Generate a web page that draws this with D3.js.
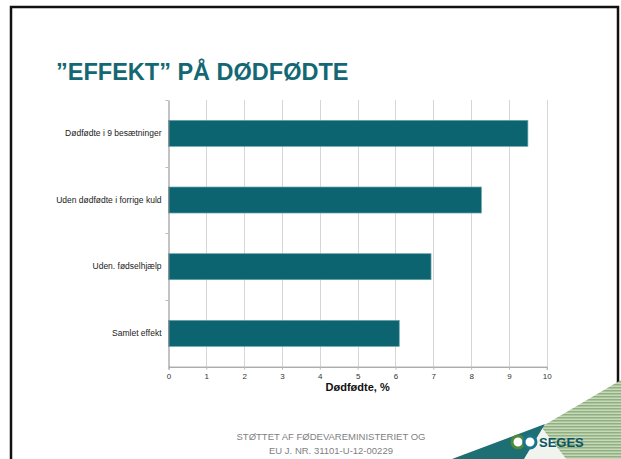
<!DOCTYPE html>
<html>
<head>
<meta charset="utf-8">
<script src="https://cdn.jsdelivr.net/npm/d3@7"></script>
<style>
  body { margin: 0; background: #fff; }
  svg { display: block; font-family: "Liberation Sans", Arial, sans-serif; }
</style>
</head>
<body>
<script>
// data
var categories = ['Dødfødte i 9 besætninger', 'Uden dødfødte i forrige kuld', 'Uden. fødselhjælp', 'Samlet effekt'];
var values = [9.5, 8.27, 6.94, 6.1];
var xTicks = [0, 1, 2, 3, 4, 5, 6, 7, 8, 9, 10];

var W = 621, H = 459;
var teal = '#0b6470';

var svg = d3.select('body').append('svg')
	.attr('width', W)
	.attr('height', H);

// slide frame
svg.append('rect')
	.attr('x', 11).attr('y', 7)
	.attr('width', 607).attr('height', 470)
	.attr('fill', 'none')
	.attr('stroke', '#111')
	.attr('stroke-width', 2.5);

svg.append('text')
	.attr('x', 56).attr('y', 80)
	.attr('fill', '#136873')
	.attr('font-size', 23.5)
	.attr('font-weight', 'bold')
	.text('\u201DEFFEKT\u201D PÅ DØDFØDTE');

var x = d3.scaleLinear().domain([0, 10]).range([168.5, 546.8]);
var y = d3.scaleBand().domain(categories).range([100, 366.7])
	.paddingInner(0.61).paddingOuter(0.305);

// gridlines
svg.append('g')
	.selectAll('line')
	.data(xTicks.slice(1))
	.enter().append('line')
	.attr('x1', function(d) { return Math.round(x(d)) + 0.5; })
	.attr('x2', function(d) { return Math.round(x(d)) + 0.5; })
	.attr('y1', 100)
	.attr('y2', 366.7)
	.attr('stroke', '#d6d6d6');

svg.append('g')
	.selectAll('rect')
	.data(values)
	.enter().append('rect')
	.attr('x', x(0))
	.attr('y', function(d, i) { return y(categories[i]); })
	.attr('width', function(d) { return x(d) - x(0); })
	.attr('height', y.bandwidth())
	.attr('fill', teal)
	.attr('stroke', '#6aa3ab')
	.attr('stroke-width', 0.7);

// x axis
var xAxis = svg.append('g')
	.attr('transform', 'translate(0,366.7)')
	.call(d3.axisBottom(x).tickValues(xTicks).tickSize(3).tickPadding(4).tickFormat(d3.format('d')));
xAxis.select('.domain').attr('stroke', '#888');
xAxis.selectAll('.tick line').attr('stroke', '#bbb');
xAxis.selectAll('text')
	.attr('font-size', 8)
	.attr('font-family', '"Liberation Sans", Arial, sans-serif')
	.attr('fill', '#333');

// y axis, ticks sit between the bands
var yAxis = svg.append('g')
	.attr('transform', 'translate(' + x(0) + ',0)')
	.call(d3.axisLeft(y).tickSize(0).tickPadding(7));
yAxis.select('.domain').attr('stroke', '#888');
yAxis.selectAll('text')
	.attr('font-size', 8.5)
	.attr('font-family', '"Liberation Sans", Arial, sans-serif')
	.attr('fill', '#222');

function bandEdge(d) {
	return Math.round(y(d) - y.step() * y.paddingInner() / 2) + 0.5;
}
svg.append('g')
	.selectAll('line')
	.data(categories)
	.enter().append('line')
	.attr('x1', x(0) - 3)
	.attr('x2', x(0))
	.attr('y1', bandEdge)
	.attr('y2', bandEdge)
	.attr('stroke', '#bbb');

svg.append('text')
	.attr('x', x(5)).attr('y', 391)
	.attr('text-anchor', 'middle')
	.attr('font-size', 11)
	.attr('font-weight', 'bold')
	.attr('fill', '#111')
	.text('Dødfødte, %');

// footer
var foot = svg.append('g')
	.attr('fill', '#7f7f7f')
	.attr('font-size', 9.5)
	.attr('text-anchor', 'middle');
foot.append('text').attr('x', 331).attr('y', 440).text('STØTTET AF FØDEVAREMINISTERIET OG');
foot.append('text').attr('x', 331).attr('y', 454).text('EU  J. NR. 31101-U-12-00229');

// corner decoration
var defs = svg.append('defs');
var pat = defs.append('pattern')
	.attr('id', 'stripes')
	.attr('patternUnits', 'userSpaceOnUse')
	.attr('width', 6).attr('height', 3);
pat.append('rect').attr('width', 6).attr('height', 3).attr('fill', '#c9d8bd');
pat.append('rect').attr('width', 6).attr('height', 1.5).attr('fill', '#8fb07f');

svg.append('polygon')
	.attr('points', '621,380 621,459 566,459 541,427')
	.attr('fill', 'url(#stripes)');
svg.append('polygon')
	.attr('points', '541,427 566,459 524,459')
	.attr('fill', '#f1f3ef');
svg.append('polygon')
	.attr('points', '545,424 524,459 452,459')
	.attr('fill', '#1e6f73');

svg.append('circle').attr('cx', 518).attr('cy', 442).attr('r', 6)
	.attr('fill', '#fff').attr('stroke', '#4e8a3a').attr('stroke-width', 3);
svg.append('circle').attr('cx', 530).attr('cy', 442).attr('r', 6)
	.attr('fill', '#fff').attr('stroke', '#1b7390').attr('stroke-width', 3);
svg.append('text')
	.attr('x', 539).attr('y', 447)
	.attr('font-size', 13)
	.attr('font-weight', 'bold')
	.attr('font-family', '"Liberation Sans Narrow", "Liberation Sans", sans-serif')
	.attr('fill', '#0d5563')
	.text('SEGES');
</script>
</body>
</html>
